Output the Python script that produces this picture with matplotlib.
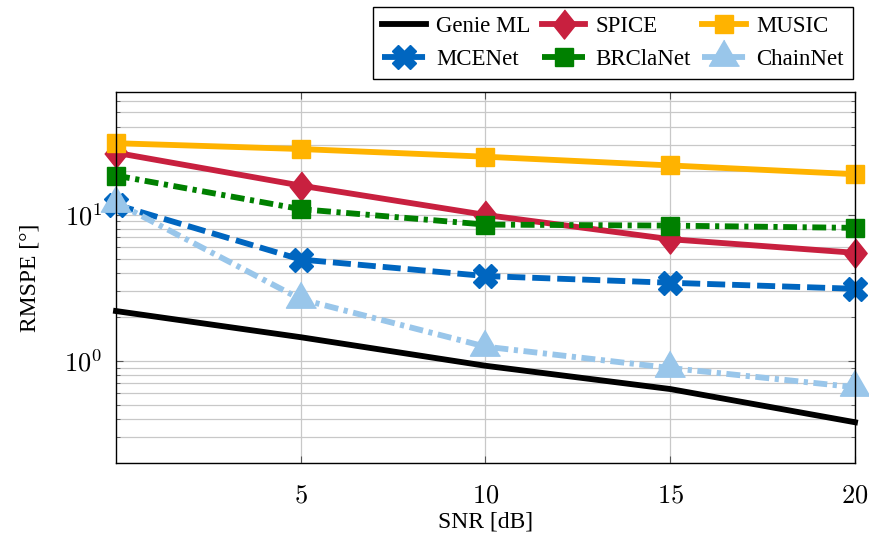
import matplotlib
matplotlib.use("Agg")
import matplotlib.pyplot as plt
from matplotlib.ticker import FixedLocator, LogLocator, NullFormatter

# values
snr = [0, 5, 10, 15, 20]
genie_ml = [2.19, 1.45, 0.925, 0.641, 0.380]
spice = [26.5, 15.8, 9.95, 6.79, 5.48]
music = [30.8, 28.1, 24.9, 21.7, 18.9]
mcenet = [11.7, 4.93, 3.80, 3.42, 3.11]
brclanet = [18.5, 10.9, 8.55, 8.41, 8.12]
chainnet = [12.1, 2.64, 1.25, 0.893, 0.66]

x_ticks = [5, 10, 15, 20]
y_ticks = [1, 10]

plt.rcParams["font.family"] = ["Liberation Serif", "DejaVu Serif"]
plt.rcParams["mathtext.fontset"] = "cm"
plt.rcParams["lines.scale_dashes"] = False

diamond = [(0, 1), (0.8, 0), (0, -1), (-0.8, 0)]
triangle = [(0, 1), (-0.866, -0.5), (0.866, -0.5)]

fig = plt.figure(figsize=(8.7, 5.36), dpi=100)
ax = fig.add_axes([116 / 870, 1 - 463 / 536, (855 - 116) / 870, (463 - 92) / 536])

lw = 4.2
h_genie, = ax.plot(snr, genie_ml, color="black", lw=lw, label="Genie ML")
h_spice, = ax.plot(snr, spice, color="#c8203f", lw=lw, marker=diamond, ms=21,
                   mec="#c8203f", label="SPICE")
h_music, = ax.plot(snr, music, color="#ffb300", lw=lw, marker="s", ms=13,
                   mec="#ffb300", label="MUSIC")
h_mce, = ax.plot(snr, mcenet, color="#0066c0", lw=lw, ls=(0, (13, 5)),
                 marker="X", ms=17, mec="#0066c0", label="MCENet")
h_brc, = ax.plot(snr, brclanet, color="#008000", lw=lw, ls=(0, (10, 4, 3, 4)),
                 marker="s", ms=13, mec="#008000", label="BRClaNet")
h_chain, = ax.plot(snr, chainnet, color="#99c6ea", lw=lw, ls=(0, (10, 4, 3, 4)),
                   marker=triangle, ms=25, mec="#99c6ea", label="ChainNet")
for h in ax.get_lines():
    h.set_clip_on(False)

ax.set_yscale("log")
ax.set_xlim(0, 20)
ax.set_ylim(0.2, 69)
ax.xaxis.set_major_locator(FixedLocator(x_ticks))
ax.set_xticklabels([f"${v}$" for v in x_ticks])
ax.yaxis.set_major_locator(FixedLocator(y_ticks))
ax.set_yticklabels([r"$10^{0}$", r"$10^{1}$"])
ax.yaxis.set_minor_locator(LogLocator(base=10, subs=range(2, 10)))
ax.yaxis.set_minor_formatter(NullFormatter())

ax.grid(True, which="major", color="#c8c8c8", lw=0.9)
ax.grid(True, which="minor", axis="y", color="#c8c8c8", lw=0.9)
ax.set_axisbelow(True)
ax.tick_params(which="both", direction="in", top=True, right=True,
               labelsize=19, color="#555555")
ax.tick_params(which="major", length=5)
ax.tick_params(which="minor", length=3)
ax.tick_params(axis="x", pad=16)
ax.tick_params(axis="y", pad=10)
for s in ax.spines.values():
    s.set_linewidth(1.0)

ax.set_xlabel("SNR [dB]", fontsize=17, va="center")
ax.xaxis.set_label_coords(0.5, (463 - 522) / 371)
ax.set_ylabel("RMSPE [°]", fontsize=17, va="center")
ax.yaxis.set_label_coords((30 - 116) / 739, 0.5)

leg = fig.legend(handles=[h_genie, h_mce, h_spice, h_brc, h_music, h_chain],
                 loc="upper right", bbox_to_anchor=(853 / 870, 1 - 7 / 536),
                 ncol=3, fontsize=16.5, frameon=True, fancybox=False,
                 edgecolor="black", framealpha=1, handlelength=1.9,
                 handletextpad=0.45, columnspacing=0.5, labelspacing=0.5,
                 borderpad=0.4, borderaxespad=0)
leg.get_frame().set_linewidth(1.0)

fig.savefig("out.png", dpi=100)
